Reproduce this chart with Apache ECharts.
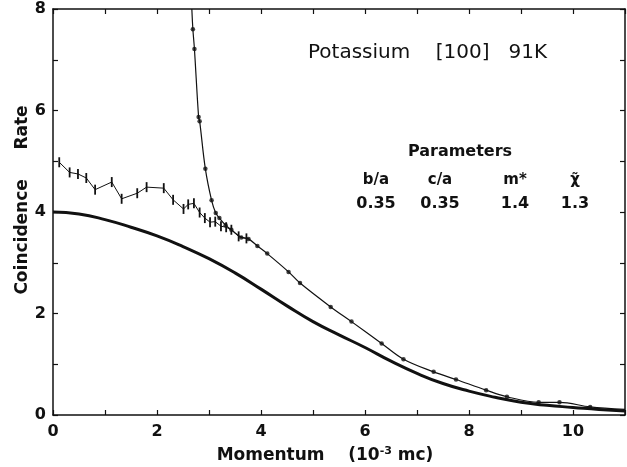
<!DOCTYPE html>
<html lang="en">
  <head>
    <meta charset="UTF-8" />
    <title>Potassium [100] 91K</title>
    <script src="https://cdn.jsdelivr.net/npm/echarts@6/dist/echarts.min.js"></script>
    <style>
      html, body { margin: 0; padding: 0; background: #fff; }
    </style>
  </head>

  <body>
    <div id="main" style="width: 627px; height: 467px"></div>

    <script>
      // thick curve (theory)
      var theoryX = [0, 0.5, 1, 1.5, 2, 2.5, 3, 3.5, 4, 4.5, 5, 5.5, 6, 6.5, 7, 7.5, 8, 8.5, 9, 9.5, 10, 10.5, 11];
      var theoryY = [4.0, 3.96, 3.85, 3.7, 3.53, 3.32, 3.08, 2.8, 2.48, 2.15, 1.84, 1.58, 1.33, 1.06, 0.82, 0.62, 0.47, 0.35, 0.25, 0.19, 0.15, 0.11, 0.08];

      // measured points with error bars
      var lowX = [0.12, 0.32, 0.48, 0.64, 0.81, 1.13, 1.32, 1.62, 1.8, 2.13, 2.31, 2.51, 2.6, 2.71, 2.82, 2.92, 3.02, 3.12, 3.23, 3.33, 3.43, 3.57, 3.72];
      var lowY = [4.98, 4.78, 4.75, 4.67, 4.44, 4.59, 4.26, 4.37, 4.49, 4.47, 4.24, 4.06, 4.15, 4.17, 3.99, 3.88, 3.8, 3.81, 3.72, 3.7, 3.65, 3.52, 3.48];

      // dotted curve (first and last are where the line leaves the frame)
      var highX = [2.67, 2.69, 2.72, 2.8, 2.82, 2.93, 3.05, 3.13, 3.2, 3.32, 3.43, 3.62, 3.76, 3.93, 4.12, 4.53, 4.75, 5.34, 5.74, 6.32, 6.74, 7.32, 7.75, 8.33, 8.73, 9.34, 9.74, 10.33, 11.0];
      var highY = [8.0, 7.6, 7.21, 5.87, 5.79, 4.85, 4.23, 3.98, 3.88, 3.74, 3.65, 3.5, 3.47, 3.33, 3.18, 2.82, 2.6, 2.13, 1.84, 1.41, 1.1, 0.85, 0.7, 0.49, 0.36, 0.25, 0.25, 0.16, 0.11];

      var xLabels = [0, 2, 4, 6, 8, 10];
      var yLabels = [0, 2, 4, 6, 8];

      var paramNames = ["b/a", "c/a", "m*", "χ̃"];
      var paramValues = ["0.35", "0.35", "1.4", "1.3"];

      function pairs(xs, ys) {
        return xs.map(function (x, i) { return [x, ys[i]]; });
      }

      var myChart = echarts.init(document.getElementById("main"));

      var ink = "#111";
      var font = "DejaVu Sans";
      var frame = { show: true, onZero: false, lineStyle: { color: ink, width: 1.5 } };
      var tick = { show: true, inside: true, length: 5, lineStyle: { color: ink, width: 1.2 } };

      var paramX = [376, 440, 515, 575];
      var graphics = [
        {
          type: "text", left: 308, top: 43,
          style: { text: "Potassium    [100]   91K", font: "20px " + font, fill: ink }
        },
        {
          type: "text", x: 460, y: 152,
          style: { text: "Parameters", font: "600 16px " + font, fill: ink, align: "center", verticalAlign: "middle" }
        }
      ];
      paramNames.forEach(function (n, i) {
        graphics.push({
          type: "text", x: paramX[i], y: 180,
          style: { text: n, font: "600 15px " + font, fill: ink, align: "center", verticalAlign: "middle" }
        });
        graphics.push({
          type: "text", x: paramX[i], y: 204,
          style: { text: paramValues[i], font: "600 16px " + font, fill: ink, align: "center", verticalAlign: "middle" }
        });
      });

      var option = {
        animation: false,
        backgroundColor: "#fff",
        grid: { left: 53, right: 2, top: 9, bottom: 52, outerBoundsMode: "none" },
        graphic: graphics,
        xAxis: [
          {
            type: "value", min: 0, max: 11, interval: 1,
            axisLine: frame, axisTick: tick, splitLine: { show: false },
            axisLabel: {
              margin: 9, color: ink, fontFamily: font, fontSize: 16, fontWeight: "bold",
              formatter: function (v) { return xLabels.indexOf(v) >= 0 ? String(v) : ""; }
            },
            name: "{a|Momentum    (10}{s|-3}{a| mc)}",
            nameLocation: "middle", nameGap: 31, nameMoveOverlap: false,
            nameTextStyle: {
              padding: [0, 28, 0, 0],
              rich: {
                a: { fontFamily: font, fontSize: 17, fontWeight: 600, color: ink },
                s: { fontFamily: font, fontSize: 11, fontWeight: 600, color: ink, padding: [0, 0, 9, 0] }
              }
            }
          },
          {
            type: "value", position: "top", min: 0, max: 11, interval: 1,
            axisLine: frame, axisTick: tick, axisLabel: { show: false }, splitLine: { show: false }
          }
        ],
        yAxis: [
          {
            type: "value", min: 0, max: 8, interval: 1,
            axisLine: frame, axisTick: tick, splitLine: { show: false },
            axisLabel: {
              margin: 7, color: ink, fontFamily: font, fontSize: 16, fontWeight: "bold",
              formatter: function (v) { return yLabels.indexOf(v) >= 0 ? String(v) : ""; }
            },
            name: "Coincidence     Rate",
            nameLocation: "middle", nameGap: 22, nameRotate: 90, nameMoveOverlap: false,
            nameTextStyle: { fontFamily: font, fontSize: 17, fontWeight: 600, color: ink, padding: [0, 0, 0, 24] }
          },
          {
            type: "value", position: "right", min: 0, max: 8, interval: 1,
            axisLine: frame, axisTick: tick, axisLabel: { show: false }, splitLine: { show: false }
          }
        ],
        series: [
          {
            name: "theory", type: "line", smooth: true, showSymbol: false,
            data: pairs(theoryX, theoryY),
            lineStyle: { color: ink, width: 3 }
          },
          {
            name: "measured", type: "line", smooth: false,
            symbol: "rect", symbolSize: [1.8, 10],
            data: pairs(lowX, lowY),
            itemStyle: { color: ink },
            lineStyle: { color: ink, width: 1 }
          },
          {
            name: "curve", type: "line", smooth: 0.35, showSymbol: false, clip: true,
            data: pairs(highX, highY),
            lineStyle: { color: ink, width: 1.2 }
          },
          {
            name: "dots", type: "scatter", symbolSize: 4.5,
            data: pairs(highX.slice(1, -1), highY.slice(1, -1)),
            itemStyle: { color: ink }
          }
        ]
      };
      myChart.setOption(option);
    </script>
  </body>
</html>
